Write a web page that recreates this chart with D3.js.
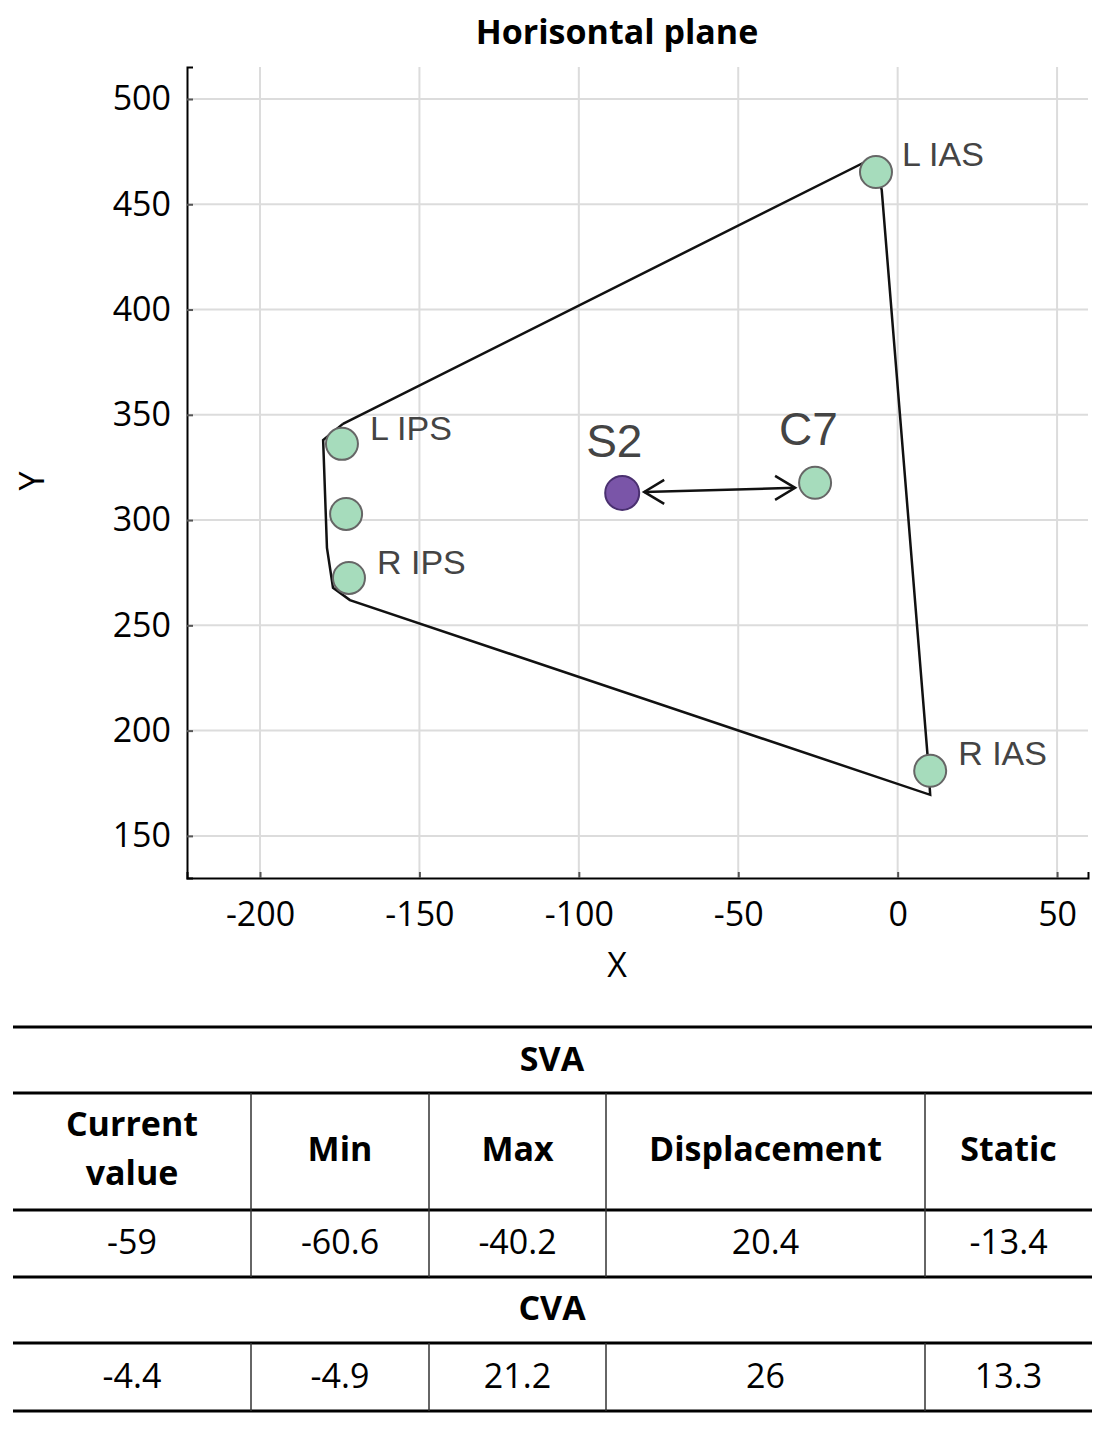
<!DOCTYPE html>
<html><head><meta charset="utf-8">
<script src="https://cdn.jsdelivr.net/npm/d3@7"></script>
<style>body{margin:0;background:#fff}</style>
</head><body><div id="c"></div>
<script>
const markers = [
  {name:"L IAS", x:-6.8, y:465.3, type:"g", lx:8, ly:-6, size:34},
  {name:"R IAS", x:10.2, y:180.9, type:"g", lx:10, ly:-6, size:34},
  {name:"L IPS", x:-174.3, y:336.2, type:"g", lx:10, ly:-4, size:34},
  {name:"", x:-173, y:302.9, type:"g", lx:0, ly:0, size:34},
  {name:"R IPS", x:-172.1, y:272.5, type:"g", lx:10, ly:-4, size:34},
  {name:"S2", x:-86.4, y:312.9, type:"p", lx:-36, ly:-36, size:46},
  {name:"C7", x:-25.9, y:317.7, type:"g", lx:-36, ly:-38, size:46}
];
const outline = [[-174,345.7],[-180.2,338],[-179,286.8],[-177.1,267.8],[-171.8,262],[10.2,169.5],[9.5,186],[-5,456.8],[-7.7,472],[-174,345.7]];
const xTicks = [-200,-150,-100,-50,0,50];
const yTicks = [150,200,250,300,350,400,450,500];
const tableCols = ["Current value","Min","Max","Displacement","Static"];
const svaRow = ["-59","-60.6","-40.2","20.4","-13.4"];
const cvaRow = ["-4.4","-4.9","21.2","26","13.3"];

const W=1093,H=1432, F="'Open Sans', 'Liberation Sans', sans-serif";
const svg=d3.select("#c").append("svg").attr("width",W).attr("height",H);
const x=d3.scaleLinear().domain([-222.9,59.7]).range([187,1088]);
const y=d3.scaleLinear().domain([515.2,130]).range([67,878]);

svg.append("text").attr("x",617).attr("y",44).attr("text-anchor","middle")
  .attr("font-family",F).attr("font-weight","bold").attr("font-size",34).text("Horisontal plane");

const g=svg.append("g");
g.selectAll(".gx").data(xTicks).join("line").attr("x1",d=>x(d)).attr("x2",d=>x(d)).attr("y1",67).attr("y2",878).attr("stroke","#dcdcdc").attr("stroke-width",2);
g.selectAll(".gy").data(yTicks).join("line").attr("y1",d=>y(d)).attr("y2",d=>y(d)).attr("x1",187).attr("x2",1088).attr("stroke","#dcdcdc").attr("stroke-width",2);

const fmt=d=>String(d);
const xa=svg.append("g").attr("transform","translate(0,878)")
  .call(d3.axisBottom(x).tickValues(xTicks).tickSize(-6).tickPadding(22).tickFormat(fmt));
const ya=svg.append("g").attr("transform","translate(187,0)")
  .call(d3.axisLeft(y).tickValues(yTicks).tickSize(-6).tickPadding(16).tickFormat(fmt));
[xa,ya].forEach(a=>{a.select(".domain").attr("stroke","#000").attr("stroke-width",2);
  a.selectAll(".tick line").attr("stroke","#555").attr("stroke-width",2);
  a.selectAll("text").attr("font-family",F).attr("font-size",34).attr("fill","#000");});
xa.selectAll("text").attr("dy","0.75em");
svg.append("text").attr("x",617).attr("y",977).attr("text-anchor","middle").attr("font-family",F).attr("font-size",34).text("X");
svg.append("text").attr("transform","translate(44,481) rotate(-90)").attr("text-anchor","middle").attr("font-family",F).attr("font-size",34).text("Y");

svg.append("path").attr("d",d3.line().x(d=>x(d[0])).y(d=>y(d[1]))(outline))
  .attr("fill","none").attr("stroke","#111").attr("stroke-width",2.5);

const s2=markers[5], c7=markers[6];
const ax1=x(s2.x)+22, ay1=y(s2.y)-1, ax2=x(c7.x)-20, ay2=y(c7.y)+5;
svg.append("line").attr("x1",ax1).attr("y1",ay1).attr("x2",ax2).attr("y2",ay2).attr("stroke","#111").attr("stroke-width",2.5);
svg.append("path").attr("d",`M${ax1+20},${ay1-12}L${ax1},${ay1}L${ax1+20},${ay1+12}`).attr("fill","none").attr("stroke","#111").attr("stroke-width",2.5);
svg.append("path").attr("d",`M${ax2-20},${ay2-12}L${ax2},${ay2}L${ax2-20},${ay2+12}`).attr("fill","none").attr("stroke","#111").attr("stroke-width",2.5);

svg.selectAll(".m").data(markers).join("circle").attr("cx",d=>x(d.x)).attr("cy",d=>y(d.y)).attr("r",d=>d.type==="p"?17:16)
  .attr("fill",d=>d.type==="p"?"#7a55a8":"#a6dcbc").attr("stroke",d=>d.type==="p"?"#4a3070":"#666").attr("stroke-width",2);
svg.selectAll(".ml").data(markers.filter(d=>d.name)).join("text")
  .attr("x",d=>x(d.x)+(d.size>40?d.lx:18+d.lx)).attr("y",d=>y(d.y)+d.ly)
  .attr("font-family","'Liberation Sans', sans-serif").attr("font-size",d=>d.size).attr("fill","#444").text(d=>d.name);

const cx=[13,251,429,606,925,1092];
const rows=[1027,1093,1210,1277,1343,1411];
svg.selectAll(".hl").data(rows).join("line").attr("x1",13).attr("x2",1092).attr("y1",d=>d).attr("y2",d=>d).attr("stroke","#000").attr("stroke-width",3);
const vseg=[[1093,1210],[1210,1277],[1343,1411]];
vseg.forEach(s=>cx.slice(1,5).forEach(c=>svg.append("line").attr("x1",c).attr("x2",c).attr("y1",s[0]).attr("y2",s[1]).attr("stroke","#333").attr("stroke-width",1.5)));
const T=(tx,ty,t,b)=>svg.append("text").attr("x",tx).attr("y",ty).attr("text-anchor","middle").attr("font-family",F).attr("font-size",34).attr("font-weight",b?"bold":"normal").text(t);
T(552,1071,"SVA",true); T(552,1320,"CVA",true);
tableCols.forEach((t,i)=>{const m=(cx[i]+cx[i+1])/2;
  if(t==="Current value"){T(m,1136,"Current",true);T(m,1185,"value",true);} else T(m,1161,t,true);});
svaRow.forEach((t,i)=>T((cx[i]+cx[i+1])/2,1254,t,false));
cvaRow.forEach((t,i)=>T((cx[i]+cx[i+1])/2,1388,t,false));
</script></body></html>
